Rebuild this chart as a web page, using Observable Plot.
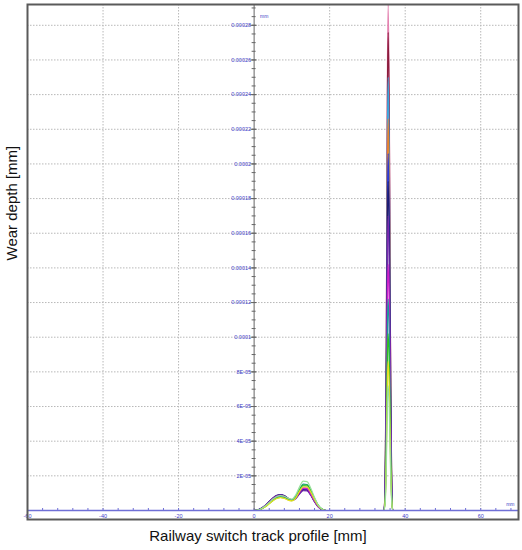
<!DOCTYPE html>
<html><head><meta charset="utf-8">
<script src="https://cdn.jsdelivr.net/npm/d3@7"></script>
<script src="https://cdn.jsdelivr.net/npm/@observablehq/plot@0.6"></script>
<style>body{margin:0;background:#fff}svg{display:block}</style>
</head><body><div id="chart"></div>
<script>
// Profile positions along the railway switch track [mm]
const profileX = [0,1,2,3,4,5,6,7,8,9,10,11,12,13,14,15,16,17,18,19,
  34.3,34.7,35.0,35.3,35.5,35.8,36.1,36.4,36.7,40];

// Wear depth series, in micrometres (1e-3 mm)... stored as 1e-6 mm units
const seriesNames = ["s01","s02","s03","s04","s05","s06","s07","s08","s09","s10","s11","s12"];
const s01 = [0,0.3,1.1,2.6,4.4,6.3,7.7,8.2,7.8,6.7,6.0,7.5,10.8,13.3,13.1,10.0,5.8,2.4,0.6,0, 0,18,102,257,292,234,102,23,0,0];
const s02 = [0,0.3,1.3,2.9,4.9,6.9,8.3,8.8,8.2,6.9,6.0,7.2,10.1,12.3,12.2,9.3,5.4,2.2,0.5,0, 0,17,97,243,276,221,97,22,0,0];
const s03 = [0,0.3,1.1,2.5,4.3,6.1,7.5,8.0,7.6,6.6,6.0,7.7,11.4,14.2,14.0,10.8,6.3,2.6,0.7,0, 0,15,88,220,250,200,88,20,0,0];
const s04 = [0,0,0,0,0,0,0,0,0,0,0,0,0,0,0,0,0,0,0,0, 0,14,79,199,226,181,79,18,0,0];
const s05 = [0,0.3,1.3,3.0,5.1,7.1,8.5,9.0,8.4,7.0,6.1,7.2,9.9,12.0,11.9,9.1,5.3,2.2,0.5,0, 0,12,72,181,206,165,72,16,0,0];
const s06 = [0,0.4,1.4,3.1,5.2,7.3,8.7,9.2,8.6,7.1,6.1,7.1,9.7,11.8,11.7,9.0,5.2,2.1,0.5,0, 0,11,67,167,190,152,67,15,0,0];
const s07 = [0,0.4,1.4,3.1,5.1,7.2,8.6,9.0,8.3,6.8,5.8,6.8,9.4,11.4,11.3,8.7,5.0,2.0,0.5,0, 0,10,60,150,170,136,60,14,0,0];
const s08 = [0,0.3,1.2,2.7,4.6,6.6,8.0,8.5,8.0,6.8,6.0,7.4,10.5,12.8,12.6,9.6,5.6,2.3,0.6,0, 0,9,50,125,142,114,50,11,0,0];
const s09 = [0,0.3,1.1,2.5,4.3,6.1,7.5,8.0,7.6,6.6,6.1,8.0,12.1,15.2,15.0,11.6,6.8,2.8,0.7,0, 0,7,43,107,122,98,43,10,0,0];
const s10 = [0,0.2,1.0,2.3,4.0,5.8,7.1,7.6,7.2,6.2,5.7,7.6,11.7,14.7,14.6,11.4,6.8,2.9,0.8,0, 0,6,36,90,102,82,36,8,0,0];
const s11 = [0,0.2,1.0,2.2,3.9,5.6,6.9,7.4,7.0,6.0,5.5,7.2,11.0,13.7,13.6,10.6,6.3,2.7,0.7,0, 0,5,30,76,86,69,30,7,0,0];
const s12 = [0,0.3,1.2,2.7,4.6,6.6,8.1,8.6,8.2,7.1,6.6,8.9,13.5,16.9,16.7,12.9,7.5,3.1,0.8,0, 0,4,25,63,72,58,25,6,0,0];
const seriesValues = [s01,s02,s03,s04,s05,s06,s07,s08,s09,s10,s11,s12];
const valueUnit = 1e-6; // values above are in 1e-6 mm

// Tick labels
const xTicks = [-60,-40,-20,0,20,40,60];
const xTickLabels = ["-60","-40","-20","0","20","40","60"];
const yTicks = [0.00002,0.00004,0.00006,0.00008,0.0001,0.00012,0.00014,0.00016,0.00018,0.0002,0.00022,0.00024,0.00026,0.00028];
const yTickLabels = ["2E-05","4E-05","6E-05","8E-05","0.0001","0.00012","0.00014","0.00016","0.00018","0.0002","0.00022","0.00024","0.00026","0.00028"];

// Styles
const seriesColors = ["#e482b0","#8b1c3c","#3aa4dc","#e8802a","#2a3ad8","#1c1c70","#7a2ab0","#d020c8","#1a9a9a","#30c020","#e8e020","#98e098"];
const axisBlue = "#6f6fd6";
const labelBlue = "#4040c8";

const table = [];
seriesNames.forEach((name, k) => {
  seriesValues[k].forEach((v, i) => table.push({series: name, x: profileX[i], y: v * valueUnit}));
});

const xMinor = d3.range(-60, 70.1, 4);
const yMinor = d3.range(0, 0.000291, 0.000005);
const xGrid = [-40,-20,20,40,60];

const chart = Plot.plot({
  width: 522, height: 550,
  marginLeft: 27, marginRight: 4, marginTop: 4, marginBottom: 40,
  x: {domain: [-60, 70], axis: null},
  y: {domain: [0, 0.000292], axis: null},
  color: {domain: seriesNames, range: seriesColors},
  style: {fontFamily: "'Liberation Sans', Arial, sans-serif", background: "#fff"},
  marks: [
    Plot.gridX({ticks: xGrid, stroke: "#b8b8b8", strokeOpacity: 1, strokeDasharray: "1.5,1.5"}),
    Plot.gridY({ticks: yTicks, stroke: "#b8b8b8", strokeOpacity: 1, strokeDasharray: "1.5,1.5"}),
    Plot.ruleX(xMinor, {x: d => d, y1: 0, y2: 0, insetTop: -2, insetBottom: 0, stroke: axisBlue}),
    Plot.ruleX([0], {stroke: "#666", strokeWidth: 1}),
    Plot.ruleY(yMinor, {y: d => d, x1: 0, x2: 0, insetLeft: -2, insetRight: -2, stroke: "#666"}),
    Plot.ruleY(yTicks, {y: d => d, x1: 0, x2: 0, insetLeft: -3, insetRight: -3, stroke: "#666"}),
    Plot.line(table, {x: "x", y: "y", z: "series", stroke: "series", strokeWidth: 1.2, curve: "monotone-x"}),
    Plot.ruleY([0], {stroke: axisBlue, strokeWidth: 1.5}),
    Plot.text(xTicks, {x: d => d, y: 0, text: (d, i) => xTickLabels[i], dy: 6, fontSize: 5.5, fill: labelBlue}),
    Plot.text(yTicks, {x: 0, y: d => d, text: (d, i) => yTickLabels[i], textAnchor: "end", dx: -3, fontSize: 5.5, fill: labelBlue}),
    Plot.text(["mm"], {x: 0, frameAnchor: "top", textAnchor: "start", dx: 6, dy: 10, fontSize: 5, fill: labelBlue}),
    Plot.text(["mm"], {frameAnchor: "bottom-right", textAnchor: "end", dx: -4, dy: -5, fontSize: 5, fill: labelBlue}),
    Plot.text(["Wear depth [mm]"], {frameAnchor: "left", rotate: -90, dx: -15, dy: 3, fontSize: 15, fill: "#111"}),
    Plot.text(["Railway switch track profile [mm]"], {frameAnchor: "bottom", dx: -15, dy: 30, fontSize: 15, fill: "#111"}),
    Plot.frame({stroke: "#5a5a5a", strokeWidth: 2, insetBottom: -9})
  ]
});
document.getElementById("chart").appendChild(chart);
</script></body></html>
